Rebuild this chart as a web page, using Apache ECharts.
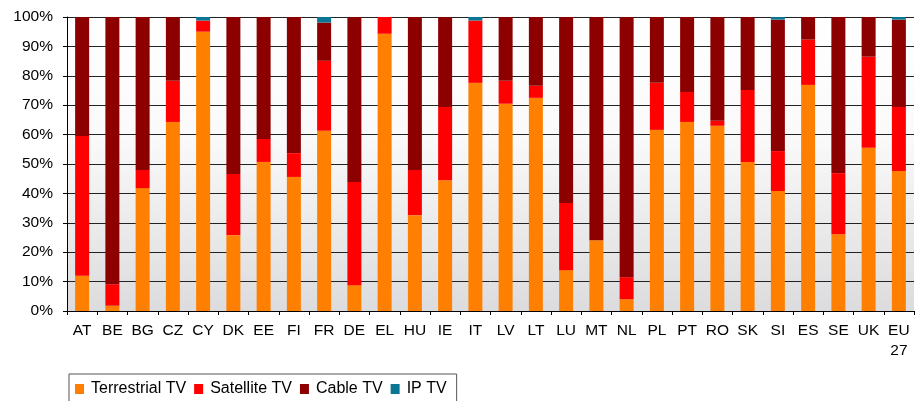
<!DOCTYPE html>
<html>
<head>
<meta charset="utf-8">
<script src="https://cdn.jsdelivr.net/npm/echarts@6/dist/echarts.min.js"></script>
<style>
  html, body { margin: 0; padding: 0; background: #fff; }
  #chart { width: 915px; height: 401px; }
</style>
</head>
<body>
<div id="chart"></div>
<script>
// countries, EU27 last
const countries = ["AT", "BE", "BG", "CZ", "CY", "DK", "EE", "FI", "FR", "DE", "EL", "HU", "IE", "IT",
  "LV", "LT", "LU", "MT", "NL", "PL", "PT", "RO", "SK", "SI", "ES", "SE", "UK", "EU\n27"];

// shares in %
const terrestrial = [12, 1.8, 41.8, 64.3, 95, 25.8, 50.7, 45.6, 61.3, 8.8, 94.3, 32.6, 44.5, 77.6,
  70.5, 72.5, 13.9, 24.1, 4, 61.6, 64.3, 63, 50.7, 40.8, 76.9, 26.1, 55.5, 47.6];
const satellite = [47.5, 7.3, 6.2, 14, 3.8, 20.8, 7.8, 8.1, 23.8, 35.1, 5.7, 15.4, 24.9, 21.2,
  7.8, 4.1, 22.8, 0, 7.5, 16, 10.2, 1.7, 24.5, 13.6, 15.4, 20.8, 31, 21.8];
const cable = [40.5, 90.9, 52, 21.7, 0, 53.4, 41.5, 46.3, 13, 56.1, 0, 52, 30.6, 0,
  21.7, 23.4, 63.3, 75.9, 88.5, 22.4, 25.5, 35.3, 24.8, 44.7, 7.7, 53.1, 13.5, 29.7];
const iptv = [0, 0, 0, 0, 1.2, 0, 0, 0, 1.9, 0, 0, 0, 0, 1.2,
  0, 0, 0, 0, 0, 0, 0, 0, 0, 0.9, 0, 0, 0, 0.9];

const yTicks = [0, 10, 20, 30, 40, 50, 60, 70, 80, 90, 100];

const font = "'Liberation Sans', Arial, sans-serif";

const mkBar = (name, data, color) => ({
  name: name,
  type: "bar",
  stack: "tv",
  barWidth: 14,
  itemStyle: { color: color },
  data: data
});

const option = {
  animation: false,
  textStyle: { fontFamily: font },
  grid: {
    left: 67,
    right: 1,
    top: 17,
    bottom: 90,
    show: true,
    borderWidth: 0,
    backgroundColor: new echarts.graphic.LinearGradient(0, 0, 0, 1, [
      { offset: 0, color: "#ffffff" },
      { offset: 0.4, color: "#fafafa" },
      { offset: 1, color: "#dcdcde" }
    ])
  },
  legend: {
    left: 69,
    top: 374,
    padding: [7, 10, 8, 6],
    borderColor: "#555",
    borderWidth: 1,
    itemWidth: 9,
    itemHeight: 10,
    itemGap: 8,
    icon: "rect",
    textStyle: { fontFamily: font, fontSize: 16, color: "#000", padding: [0, 0, 0, 2] },
    data: ["Terrestrial TV", "Satellite TV", "Cable TV", "IP TV"]
  },
  xAxis: {
    type: "category",
    data: countries,
    axisLine: { lineStyle: { color: "#000", width: 1 } },
    axisTick: { show: true, length: 4, lineStyle: { color: "#000" } },
    axisLabel: { color: "#000", fontFamily: font, fontSize: 15.5, lineHeight: 20, margin: 10, interval: 0 }
  },
  yAxis: {
    type: "value",
    min: yTicks[0],
    max: yTicks[yTicks.length - 1],
    interval: 10,
    axisLine: { show: true, lineStyle: { color: "#000", width: 1 } },
    axisTick: { show: true, length: 4, lineStyle: { color: "#000" } },
    axisLabel: { color: "#000", fontFamily: font, fontSize: 15.5, margin: 14, formatter: "{value}%" },
    splitLine: { show: true, lineStyle: { color: "#222", width: 1 } }
  },
  series: [
    mkBar("Terrestrial TV", terrestrial, "#ff8000"),
    mkBar("Satellite TV", satellite, "#ff0000"),
    mkBar("Cable TV", cable, "#8c0000"),
    mkBar("IP TV", iptv, "#0b7694")
  ]
};

const chart = echarts.init(document.getElementById("chart"));
chart.setOption(option);
</script>
</body>
</html>
